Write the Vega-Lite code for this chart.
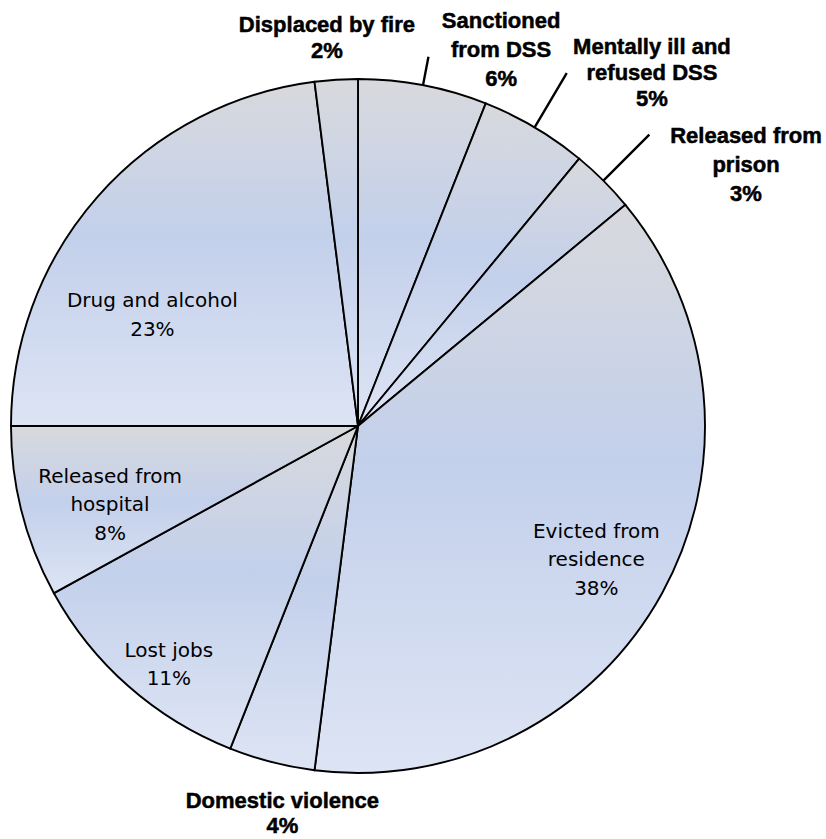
{
  "$schema": "https://vega.github.io/schema/vega-lite/v6.json",
  "width": 716,
  "height": 826,
  "autosize": {"type": "none"},
  "padding": {"left": 0, "top": 13, "right": 110, "bottom": 0},
  "background": "white",
  "view": {"stroke": null},
  "data": {
    "values": [
      {"rank": 1, "cause": "Sanctioned from DSS", "label": "Sanctioned\nfrom DSS", "pct": 6},
      {"rank": 2, "cause": "Mentally ill and refused DSS", "label": "Mentally ill and\nrefused DSS", "pct": 5},
      {"rank": 3, "cause": "Released from prison", "label": "Released from\nprison", "pct": 3},
      {"rank": 4, "cause": "Evicted from residence", "label": "Evicted from\nresidence", "pct": 38},
      {"rank": 5, "cause": "Domestic violence", "label": "Domestic violence", "pct": 4},
      {"rank": 6, "cause": "Lost jobs", "label": "Lost jobs", "pct": 11},
      {"rank": 7, "cause": "Released from hospital", "label": "Released from\nhospital", "pct": 8},
      {"rank": 8, "cause": "Drug and alcohol", "label": "Drug and alcohol", "pct": 23},
      {"rank": 9, "cause": "Displaced by fire", "label": "Displaced by fire", "pct": 2}
    ]
  },
  "encoding": {
    "theta": {"field": "pct", "type": "quantitative", "stack": true},
    "order": {"field": "rank", "type": "quantitative"}
  },
  "layer": [
    {
      "mark": {
        "type": "arc",
        "radius": 347,
        "stroke": "#000000",
        "strokeWidth": 1.9,
        "fill": {
          "gradient": "linear",
          "x1": 0, "y1": 0, "x2": 0, "y2": 1,
          "stops": [
            {"offset": 0, "color": "#d8d9dd"},
            {"offset": 0.45, "color": "#c3d0eb"},
            {"offset": 1, "color": "#dde4f4"}
          ]
        }
      }
    },
    {
      "mark": {"type": "arc", "padAngle": 3, "radius": 376, "radius2": 347, "fillOpacity": 0, "stroke": "#000000", "strokeWidth": 2.4},
      "encoding": {"strokeOpacity": {"condition": {"test": "datum.cause === 'Sanctioned from DSS'", "value": 1}, "value": 0}}
    },
    {
      "mark": {"type": "arc", "padAngle": 3, "radius": 410, "radius2": 347, "fillOpacity": 0, "stroke": "#000000", "strokeWidth": 2.4},
      "encoding": {"strokeOpacity": {"condition": {"test": "datum.cause === 'Mentally ill and refused DSS'", "value": 1}, "value": 0}}
    },
    {
      "mark": {"type": "arc", "padAngle": 3, "radius": 412, "radius2": 347, "fillOpacity": 0, "stroke": "#000000", "strokeWidth": 2.4},
      "encoding": {"strokeOpacity": {"condition": {"test": "datum.cause === 'Released from prison'", "value": 1}, "value": 0}}
    },
    {
      "mark": {"type": "text", "radius": 272, "dy": -25.5, "font": "DejaVu Sans", "fontSize": 20, "lineHeight": 28.5, "lineBreak": "\n", "align": "center", "baseline": "middle", "color": "#000000"},
      "encoding": {"text": {"condition": {"test": "datum.cause === 'Evicted from residence'", "value": {"expr": "datum.label + '\\n' + datum.pct + '%'"}}, "value": ""}}
    },
    {
      "mark": {"type": "text", "radius": 304, "thetaOffset": -0.051, "dy": -13, "font": "DejaVu Sans", "fontSize": 20, "lineHeight": 28.5, "lineBreak": "\n", "align": "center", "baseline": "middle", "color": "#000000"},
      "encoding": {"text": {"condition": {"test": "datum.cause === 'Lost jobs'", "value": {"expr": "datum.label + '\\n' + datum.pct + '%'"}}, "value": ""}}
    },
    {
      "mark": {"type": "text", "radius": 260, "thetaOffset": -0.054, "dy": -27.5, "font": "DejaVu Sans", "fontSize": 20, "lineHeight": 28.5, "lineBreak": "\n", "align": "center", "baseline": "middle", "color": "#000000"},
      "encoding": {"text": {"condition": {"test": "datum.cause === 'Released from hospital'", "value": {"expr": "datum.label + '\\n' + datum.pct + '%'"}}, "value": ""}}
    },
    {
      "mark": {"type": "text", "radius": 234, "thetaOffset": -0.225, "dy": -13, "font": "DejaVu Sans", "fontSize": 20, "lineHeight": 28.5, "lineBreak": "\n", "align": "center", "baseline": "middle", "color": "#000000"},
      "encoding": {"text": {"condition": {"test": "datum.cause === 'Drug and alcohol'", "value": {"expr": "datum.label + '\\n' + datum.pct + '%'"}}, "value": ""}}
    },
    {
      "mark": {"type": "text", "radius": 390, "thetaOffset": -0.017, "dy": -12, "font": "Liberation Sans", "fontWeight": "bold", "fontSize": 22, "stroke": "#000000", "strokeWidth": 0.5, "lineHeight": 26, "lineBreak": "\n", "align": "center", "baseline": "middle", "color": "#000000"},
      "encoding": {"text": {"condition": {"test": "datum.cause === 'Displaced by fire'", "value": {"expr": "datum.label + '\\n' + datum.pct + '%'"}}, "value": ""}}
    },
    {
      "mark": {"type": "text", "radius": 403, "thetaOffset": 0.1745, "dy": -28, "font": "Liberation Sans", "fontWeight": "bold", "fontSize": 22, "stroke": "#000000", "strokeWidth": 0.5, "lineHeight": 29, "lineBreak": "\n", "align": "center", "baseline": "middle", "color": "#000000"},
      "encoding": {"text": {"condition": {"test": "datum.cause === 'Sanctioned from DSS'", "value": {"expr": "datum.label + '\\n' + datum.pct + '%'"}}, "value": ""}}
    },
    {
      "mark": {"type": "text", "radius": 459, "thetaOffset": 0.161, "dy": -26, "font": "Liberation Sans", "fontWeight": "bold", "fontSize": 22, "stroke": "#000000", "strokeWidth": 0.5, "lineHeight": 26, "lineBreak": "\n", "align": "center", "baseline": "middle", "color": "#000000"},
      "encoding": {"text": {"condition": {"test": "datum.cause === 'Mentally ill and refused DSS'", "value": {"expr": "datum.label + '\\n' + datum.pct + '%'"}}, "value": ""}}
    },
    {
      "mark": {"type": "text", "radius": 468, "thetaOffset": 0.192, "dy": -28, "font": "Liberation Sans", "fontWeight": "bold", "fontSize": 22, "stroke": "#000000", "strokeWidth": 0.5, "lineHeight": 29, "lineBreak": "\n", "align": "center", "baseline": "middle", "color": "#000000"},
      "encoding": {"text": {"condition": {"test": "datum.cause === 'Released from prison'", "value": {"expr": "datum.label + '\\n' + datum.pct + '%'"}}, "value": ""}}
    },
    {
      "mark": {"type": "text", "radius": 396, "thetaOffset": -0.059, "dy": -14, "font": "Liberation Sans", "fontWeight": "bold", "fontSize": 22, "stroke": "#000000", "strokeWidth": 0.5, "lineHeight": 25, "lineBreak": "\n", "align": "center", "baseline": "middle", "color": "#000000"},
      "encoding": {"text": {"condition": {"test": "datum.cause === 'Domestic violence'", "value": {"expr": "datum.label + '\\n' + datum.pct + '%'"}}, "value": ""}}
    }
  ]
}
